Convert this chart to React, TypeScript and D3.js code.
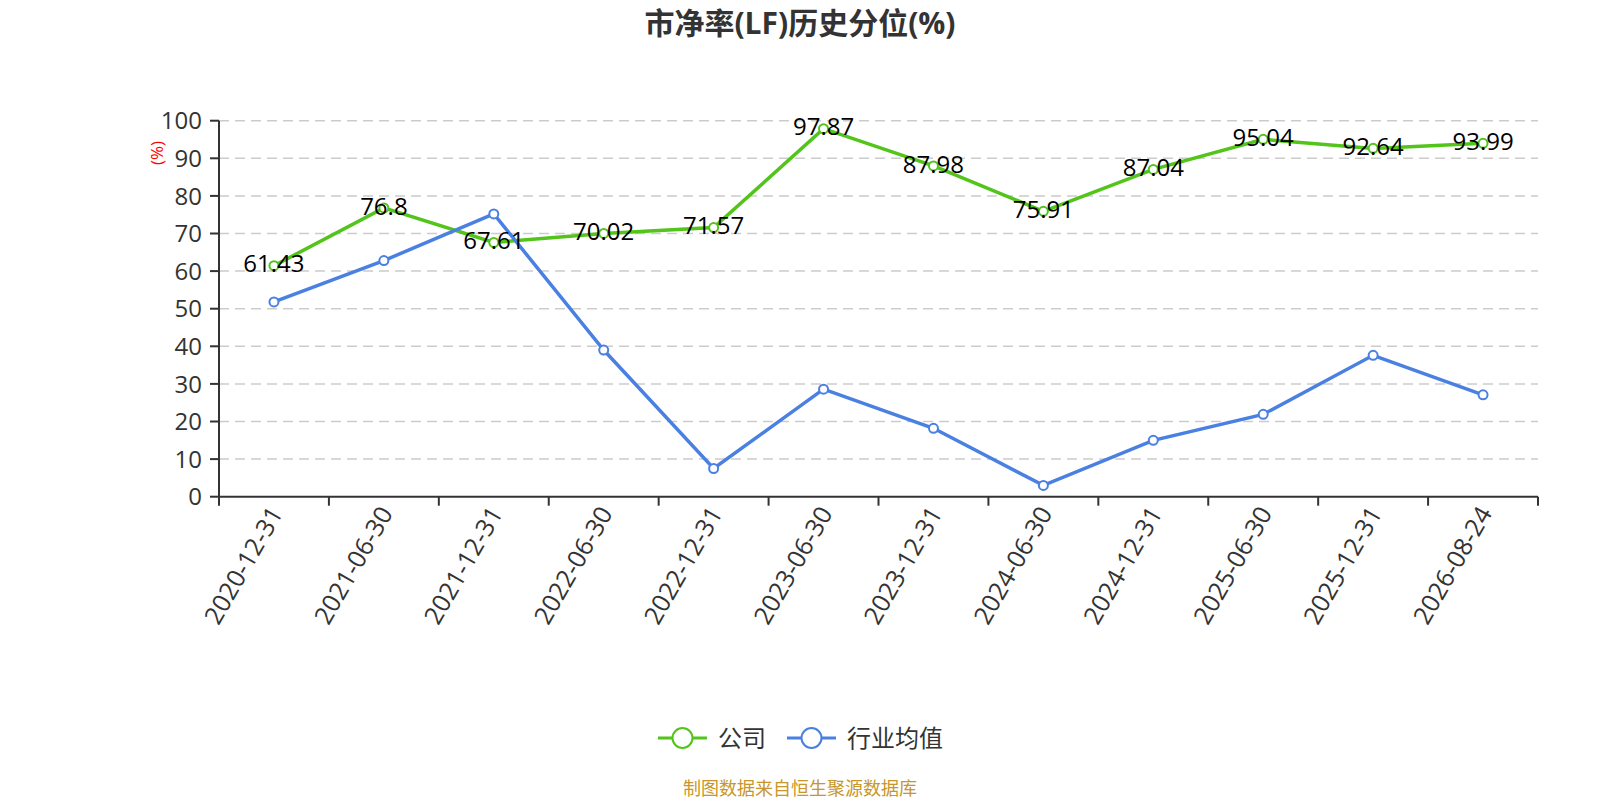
import React from "react";
import * as d3 from "d3";

const categories = [
  "2020-12-31", "2021-06-30", "2021-12-31", "2022-06-30", "2022-12-31", "2023-06-30",
  "2023-12-31", "2024-06-30", "2024-12-31", "2025-06-30", "2025-12-31", "2026-08-24",
];
const companyValues = [61.43, 76.8, 67.61, 70.02, 71.57, 97.87, 87.98, 75.91, 87.04, 95.04, 92.64, 93.99];
const industryValues = [51.8, 62.8, 75.2, 39.0, 7.5, 28.6, 18.2, 3.0, 15.0, 21.9, 37.6, 27.1];
const yTicks = [0, 10, 20, 30, 40, 50, 60, 70, 80, 90, 100];
const seriesNames = ["公司", "行业均值"];
const title = "市净率(LF)历史分位(%)";
const yAxisName = "(%)";
const sourceText = "制图数据来自恒生聚源数据库";

const W = 1600;
const H = 800;
const left = 219;
const right = 1538;
const top = 120.7;
const bottom = 496.7;
const GREEN = "#52c41a";
const BLUE = "#4a80e2";
const FONT = "'Open Sans', 'Noto Sans CJK SC', sans-serif";

export default function App() {
  const x = d3.scaleBand<string>().domain(categories).range([left, right]).padding(0);
  const y = d3.scaleLinear().domain([0, 100]).range([bottom, top]);
  const cx = (c: string) => (x(c) as number) + x.bandwidth() / 2;
  const line = d3
    .line<number>()
    .x((_, i) => cx(categories[i]))
    .y((d) => y(d));

  const series = [
    { name: seriesNames[0], values: companyValues, color: GREEN, labels: true },
    { name: seriesNames[1], values: industryValues, color: BLUE, labels: false },
  ];

  const boundaries = categories.map((c) => x(c) as number).concat([right]);

  return (
    <svg
      width={W}
      height={H}
      style={{ position: "absolute", left: 0, top: 0, background: "#fff" }}
      fontFamily={FONT}
    >
      <text x={800} y={34} textAnchor="middle" fontSize={30} fontWeight="bold" fill="#333">
        {title}
      </text>

      {/* grid lines */}
      {yTicks.filter((t) => t > 0).map((t) => (
        <line
          key={"g" + t}
          x1={left}
          x2={right}
          y1={y(t)}
          y2={y(t)}
          stroke="#ccc"
          strokeWidth={1.5}
          strokeDasharray="10,6"
        />
      ))}

      {/* y axis */}
      <line x1={left} x2={left} y1={top} y2={bottom} stroke="#333" strokeWidth={2} />
      {yTicks.map((t) => (
        <g key={"y" + t}>
          <line x1={left - 9} x2={left} y1={y(t)} y2={y(t)} stroke="#333" strokeWidth={2} />
          <text x={left - 17} y={y(t)} dy="0.36em" textAnchor="end" fontSize={24} fill="#333">
            {t}
          </text>
        </g>
      ))}
      <text
        transform={`translate(157,153) rotate(-90)`}
        textAnchor="middle"
        dy="0.35em"
        fontSize={17}
        fill="red"
      >
        {yAxisName}
      </text>

      {/* x axis */}
      <line x1={left} x2={right} y1={bottom} y2={bottom} stroke="#333" strokeWidth={2} />
      {boundaries.map((b, i) => (
        <line key={"xt" + i} x1={b} x2={b} y1={bottom} y2={bottom + 9} stroke="#333" strokeWidth={2} />
      ))}
      {categories.map((c) => (
        <text
          key={"xl" + c}
          transform={`translate(${cx(c) + 2},${bottom + 12}) rotate(-60)`}
          textAnchor="end"
          dy="0.36em"
          fontSize={25}
          fill="#333"
        >
          {c}
        </text>
      ))}

      {/* series */}
      {series.map((s) => (
        <g key={s.name}>
          <path d={line(s.values) || ""} fill="none" stroke={s.color} strokeWidth={3.5} />
          {s.values.map((v, i) => (
            <circle
              key={i}
              cx={cx(categories[i])}
              cy={y(v)}
              r={4.5}
              fill="#fff"
              stroke={s.color}
              strokeWidth={2}
            />
          ))}
        </g>
      ))}
      {series
        .filter((s) => s.labels)
        .map((s) =>
          s.values.map((v, i) => (
            <text
              key={"lab" + i}
              x={cx(categories[i])}
              y={y(v) - 2}
              dy="0.36em"
              textAnchor="middle"
              fontSize={24}
              fill="#000"
            >
              {String(v)}
            </text>
          ))
        )}

      {/* legend */}
      {[
        { s: series[0], x0: 658, tx: 718 },
        { s: series[1], x0: 787, tx: 847 },
      ].map(({ s, x0, tx }) => (
        <g key={"lg" + s.name}>
          <line x1={x0} x2={x0 + 49} y1={738} y2={738} stroke={s.color} strokeWidth={3} />
          <circle cx={x0 + 24.5} cy={738} r={10} fill="#fff" stroke={s.color} strokeWidth={2} />
          <text x={tx} y={738} dy="0.36em" fontSize={24} fill="#333">
            {s.name}
          </text>
        </g>
      ))}

      <text x={800} y={789} dy="0.36em" textAnchor="middle" fontSize={18} fill="#c8962a">
        {sourceText}
      </text>
    </svg>
  );
}
